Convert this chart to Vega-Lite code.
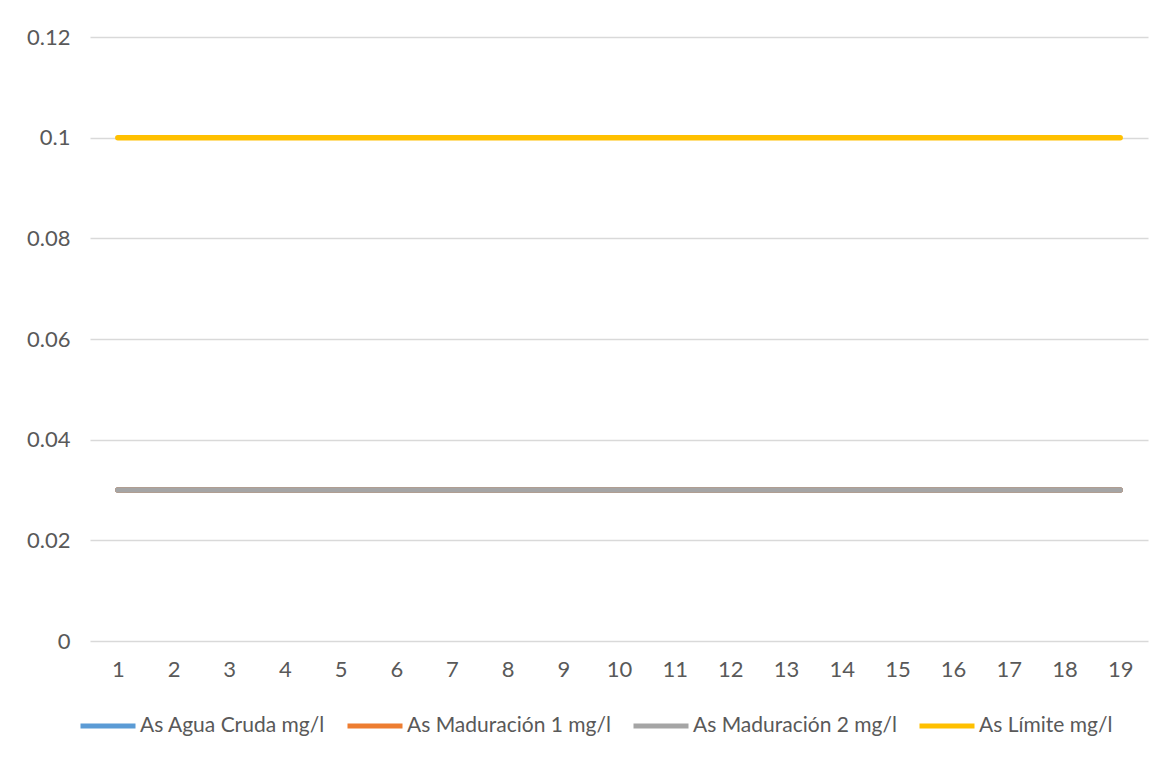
{
  "$schema": "https://vega.github.io/schema/vega-lite/v6.json",
  "autosize": {"type": "none"},
  "width": 1058,
  "height": 604,
  "padding": {"left": 90, "top": 37, "right": 27, "bottom": 119},
  "background": "white",
  "data": {
    "values": [
      {"serie": "As Agua Cruda mg/l", "n": 1, "v": 0.03},
      {"serie": "As Agua Cruda mg/l", "n": 2, "v": 0.03},
      {"serie": "As Agua Cruda mg/l", "n": 3, "v": 0.03},
      {"serie": "As Agua Cruda mg/l", "n": 4, "v": 0.03},
      {"serie": "As Agua Cruda mg/l", "n": 5, "v": 0.03},
      {"serie": "As Agua Cruda mg/l", "n": 6, "v": 0.03},
      {"serie": "As Agua Cruda mg/l", "n": 7, "v": 0.03},
      {"serie": "As Agua Cruda mg/l", "n": 8, "v": 0.03},
      {"serie": "As Agua Cruda mg/l", "n": 9, "v": 0.03},
      {"serie": "As Agua Cruda mg/l", "n": 10, "v": 0.03},
      {"serie": "As Agua Cruda mg/l", "n": 11, "v": 0.03},
      {"serie": "As Agua Cruda mg/l", "n": 12, "v": 0.03},
      {"serie": "As Agua Cruda mg/l", "n": 13, "v": 0.03},
      {"serie": "As Agua Cruda mg/l", "n": 14, "v": 0.03},
      {"serie": "As Agua Cruda mg/l", "n": 15, "v": 0.03},
      {"serie": "As Agua Cruda mg/l", "n": 16, "v": 0.03},
      {"serie": "As Agua Cruda mg/l", "n": 17, "v": 0.03},
      {"serie": "As Agua Cruda mg/l", "n": 18, "v": 0.03},
      {"serie": "As Agua Cruda mg/l", "n": 19, "v": 0.03},
      {"serie": "As Maduración 1 mg/l", "n": 1, "v": 0.03},
      {"serie": "As Maduración 1 mg/l", "n": 2, "v": 0.03},
      {"serie": "As Maduración 1 mg/l", "n": 3, "v": 0.03},
      {"serie": "As Maduración 1 mg/l", "n": 4, "v": 0.03},
      {"serie": "As Maduración 1 mg/l", "n": 5, "v": 0.03},
      {"serie": "As Maduración 1 mg/l", "n": 6, "v": 0.03},
      {"serie": "As Maduración 1 mg/l", "n": 7, "v": 0.03},
      {"serie": "As Maduración 1 mg/l", "n": 8, "v": 0.03},
      {"serie": "As Maduración 1 mg/l", "n": 9, "v": 0.03},
      {"serie": "As Maduración 1 mg/l", "n": 10, "v": 0.03},
      {"serie": "As Maduración 1 mg/l", "n": 11, "v": 0.03},
      {"serie": "As Maduración 1 mg/l", "n": 12, "v": 0.03},
      {"serie": "As Maduración 1 mg/l", "n": 13, "v": 0.03},
      {"serie": "As Maduración 1 mg/l", "n": 14, "v": 0.03},
      {"serie": "As Maduración 1 mg/l", "n": 15, "v": 0.03},
      {"serie": "As Maduración 1 mg/l", "n": 16, "v": 0.03},
      {"serie": "As Maduración 1 mg/l", "n": 17, "v": 0.03},
      {"serie": "As Maduración 1 mg/l", "n": 18, "v": 0.03},
      {"serie": "As Maduración 1 mg/l", "n": 19, "v": 0.03},
      {"serie": "As Maduración 2 mg/l", "n": 1, "v": 0.03},
      {"serie": "As Maduración 2 mg/l", "n": 2, "v": 0.03},
      {"serie": "As Maduración 2 mg/l", "n": 3, "v": 0.03},
      {"serie": "As Maduración 2 mg/l", "n": 4, "v": 0.03},
      {"serie": "As Maduración 2 mg/l", "n": 5, "v": 0.03},
      {"serie": "As Maduración 2 mg/l", "n": 6, "v": 0.03},
      {"serie": "As Maduración 2 mg/l", "n": 7, "v": 0.03},
      {"serie": "As Maduración 2 mg/l", "n": 8, "v": 0.03},
      {"serie": "As Maduración 2 mg/l", "n": 9, "v": 0.03},
      {"serie": "As Maduración 2 mg/l", "n": 10, "v": 0.03},
      {"serie": "As Maduración 2 mg/l", "n": 11, "v": 0.03},
      {"serie": "As Maduración 2 mg/l", "n": 12, "v": 0.03},
      {"serie": "As Maduración 2 mg/l", "n": 13, "v": 0.03},
      {"serie": "As Maduración 2 mg/l", "n": 14, "v": 0.03},
      {"serie": "As Maduración 2 mg/l", "n": 15, "v": 0.03},
      {"serie": "As Maduración 2 mg/l", "n": 16, "v": 0.03},
      {"serie": "As Maduración 2 mg/l", "n": 17, "v": 0.03},
      {"serie": "As Maduración 2 mg/l", "n": 18, "v": 0.03},
      {"serie": "As Maduración 2 mg/l", "n": 19, "v": 0.03},
      {"serie": "As Límite mg/l", "n": 1, "v": 0.1},
      {"serie": "As Límite mg/l", "n": 2, "v": 0.1},
      {"serie": "As Límite mg/l", "n": 3, "v": 0.1},
      {"serie": "As Límite mg/l", "n": 4, "v": 0.1},
      {"serie": "As Límite mg/l", "n": 5, "v": 0.1},
      {"serie": "As Límite mg/l", "n": 6, "v": 0.1},
      {"serie": "As Límite mg/l", "n": 7, "v": 0.1},
      {"serie": "As Límite mg/l", "n": 8, "v": 0.1},
      {"serie": "As Límite mg/l", "n": 9, "v": 0.1},
      {"serie": "As Límite mg/l", "n": 10, "v": 0.1},
      {"serie": "As Límite mg/l", "n": 11, "v": 0.1},
      {"serie": "As Límite mg/l", "n": 12, "v": 0.1},
      {"serie": "As Límite mg/l", "n": 13, "v": 0.1},
      {"serie": "As Límite mg/l", "n": 14, "v": 0.1},
      {"serie": "As Límite mg/l", "n": 15, "v": 0.1},
      {"serie": "As Límite mg/l", "n": 16, "v": 0.1},
      {"serie": "As Límite mg/l", "n": 17, "v": 0.1},
      {"serie": "As Límite mg/l", "n": 18, "v": 0.1},
      {"serie": "As Límite mg/l", "n": 19, "v": 0.1}
    ]
  },
  "mark": {"type": "line", "strokeWidth": 5.5, "strokeCap": "round", "strokeJoin": "round"},
  "encoding": {
    "x": {
      "field": "n",
      "type": "ordinal",
      "sort": "ascending",
      "scale": {"type": "point", "padding": 0.5},
      "axis": {
        "title": null,
        "labelAngle": 0,
        "ticks": false,
        "domain": false,
        "grid": false,
        "labelPadding": 18,
        "labelFont": "Lato",
        "labelFontSize": 22,
        "labelColor": "#595959"
      }
    },
    "y": {
      "field": "v",
      "type": "quantitative",
      "scale": {"domain": [0, 0.12], "nice": false},
      "axis": {
        "title": null,
        "values": [0, 0.02, 0.04, 0.06, 0.08, 0.1, 0.12],
        "labelExpr": "datum.value == 0 ? '0' : format(datum.value, '.2~f')",
        "ticks": false,
        "domain": false,
        "grid": true,
        "gridColor": "#d9d9d9",
        "gridWidth": 1.5,
        "labelPadding": 20,
        "labelFont": "Lato",
        "labelFontSize": 22,
        "labelColor": "#595959"
      }
    },
    "color": {
      "field": "serie",
      "type": "nominal",
      "sort": ["As Agua Cruda mg/l", "As Maduración 1 mg/l", "As Maduración 2 mg/l", "As Límite mg/l"],
      "scale": {
        "domain": ["As Agua Cruda mg/l", "As Maduración 1 mg/l", "As Maduración 2 mg/l", "As Límite mg/l"],
        "range": ["#5B9BD5", "#ED7D31", "#A5A5A5", "#FFC000"]
      },
      "legend": {
        "title": null,
        "orient": "none",
        "direction": "horizontal",
        "legendX": -12,
        "legendY": 659,
        "symbolType": "stroke",
        "symbolSize": 3025,
        "symbolStrokeWidth": 5,
        "labelOffset": 2,
        "columnPadding": 12,
        "labelFont": "Lato",
        "labelFontSize": 21,
        "labelColor": "#595959",
        "labelLimit": 400
      }
    }
  },
  "config": {
    "view": {"stroke": null}
  }
}
